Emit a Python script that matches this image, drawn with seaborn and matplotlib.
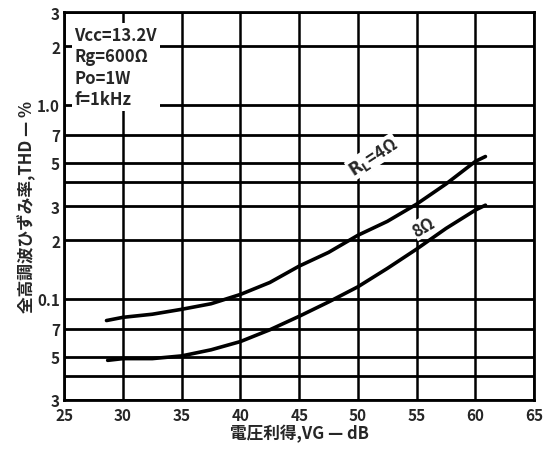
import numpy as np
import pandas as pd
import matplotlib
matplotlib.use("Agg")
import matplotlib.pyplot as plt
import seaborn as sns

# voltage gain (dB) and THD (%)
gain_4 = [28.6, 30, 32.5, 35, 37.5, 40, 42.5, 45, 47.5, 50, 52.5, 55, 57.5, 60, 60.85]
thd_4 = [0.077, 0.080, 0.083, 0.088, 0.094, 0.105, 0.121, 0.147, 0.173, 0.212, 0.25, 0.307, 0.39, 0.51, 0.54]
gain_8 = [28.7, 30, 32.5, 35, 37.5, 40, 42.5, 45, 47.5, 50, 52.5, 55, 57.5, 60, 60.85]
thd_8 = [0.048, 0.049, 0.049, 0.0506, 0.0544, 0.060, 0.069, 0.081, 0.096, 0.115, 0.143, 0.18, 0.23, 0.286, 0.303]

x_ticks = [25, 30, 35, 40, 45, 50, 55, 60, 65]
y_ticks = [0.03, 0.04, 0.05, 0.07, 0.1, 0.2, 0.3, 0.4, 0.5, 0.7, 1.0, 2.0, 3.0]
y_labels = ["3", "", "5", "7", "0.1", "2", "3", "", "5", "7", "1.0", "2", "3"]
conditions = ["Vcc=13.2V", "Rg=600Ω", "Po=1W", "f=1kHz"]

df = pd.concat([
    pd.DataFrame({"gain": gain_4, "thd": thd_4, "RL": "4Ω"}),
    pd.DataFrame({"gain": gain_8, "thd": thd_8, "RL": "8Ω"}),
])

sns.set_style("white")
plt.rcParams["font.family"] = ["Noto Sans CJK JP", "DejaVu Sans"]

fig = plt.figure(figsize=(5.44, 4.52), dpi=100)
ax = fig.add_axes([0.118, 0.113, 0.864, 0.858])

ax.set_yscale("log")

# chart-paper grid
ax.hlines(y_ticks, 25, 65, colors="black", linewidth=2.0, zorder=2)
ax.vlines(x_ticks, 0.03, 3, colors="black", linewidth=1.8, zorder=2)

sns.lineplot(data=df, x="gain", y="thd", units="RL", estimator=None,
             color="black", lw=2.6, ax=ax, legend=False, zorder=3)

ax.set_xlim(25, 65)
ax.set_ylim(0.03, 3)
ax.set_xticks(x_ticks)
ax.set_xticklabels([str(v) for v in x_ticks], fontweight="bold", fontsize=11)
ax.set_yticks(y_ticks)
ax.set_yticklabels(y_labels, fontweight="bold", fontsize=11)
ax.minorticks_off()
ax.tick_params(length=0, pad=3)
ax.tick_params(axis="x", pad=5)

for s in ax.spines.values():
    s.set_linewidth(2)
    s.set_color("black")

ax.set_xlabel("電圧利得,VG — dB", fontsize=12, fontweight="bold", labelpad=1)
ax.set_ylabel("全高調波ひずみ率,THD — %", fontsize=12, fontweight="bold", labelpad=1)

ax.text(0.022, 0.965, "\n".join(conditions), transform=ax.transAxes,
        fontsize=12, fontweight="bold", va="top", ha="left", linespacing=1.25,
        bbox=dict(facecolor="white", edgecolor="none", pad=2), zorder=4)

ax.text(51.3, 0.54, r"$\mathbf{R_L}$=4Ω", rotation=33, fontsize=12,
        fontweight="bold", ha="center", va="center", zorder=4,
        bbox=dict(facecolor="white", edgecolor="none", pad=0.5))
ax.text(55.6, 0.235, "8Ω", rotation=30, fontsize=12, fontweight="bold",
        ha="center", va="center", zorder=4,
        bbox=dict(facecolor="white", edgecolor="none", pad=0.5))

fig.savefig("out.png", dpi=100)
